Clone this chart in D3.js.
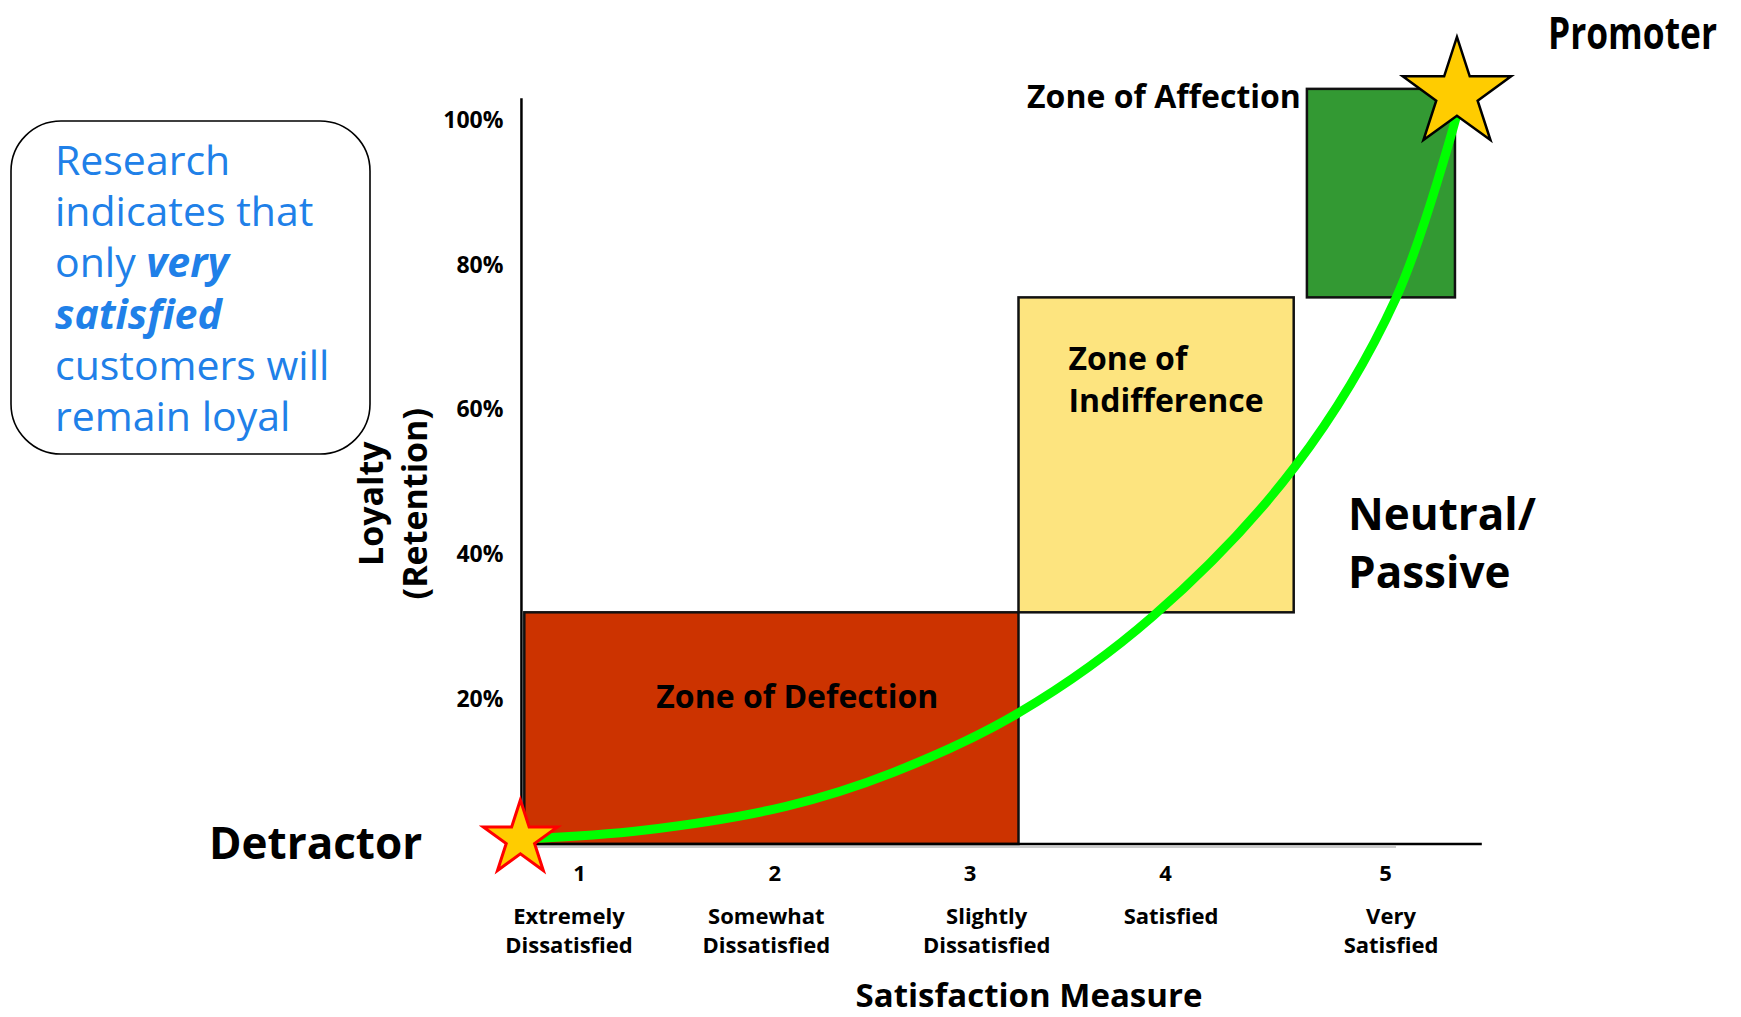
<!DOCTYPE html>
<html>
<head>
<meta charset="utf-8">
<script src="https://cdn.jsdelivr.net/npm/d3@7"></script>
<style>
  html, body { margin: 0; padding: 0; background: #fff; }
  svg { display: block; font-family: "Open Sans", "DejaVu Sans", sans-serif; }
</style>
</head>
<body>
<svg id="chart" width="1741" height="1017"></svg>
<script>
// ---- data -------------------------------------------------------------
const satisfactionTicks = [1, 2, 3, 4, 5];
const satisfactionLabels = [
  ["Extremely", "Dissatisfied"],
  ["Somewhat", "Dissatisfied"],
  ["Slightly", "Dissatisfied"],
  ["Satisfied"],
  ["Very", "Satisfied"]
];
const loyaltyTicks = [20, 40, 60, 80, 100];

// zones: satisfaction range (x) and loyalty range in % (y)
const zoneNames = ["Zone of Defection", "Zone of Indifference", "Zone of Affection"];
const zoneFrom = [0.72, 3.25, 4.645];
const zoneTo = [3.25, 4.585, 5.318];
const zoneLow = [0, 32, 75.5];
const zoneHigh = [32, 75.5, 104.3];
const zoneColors = ["#CC3300", "#FDE47F", "#339933"];

// loyalty curve: satisfaction score vs retention %
const curveSatisfaction = [0.72, 1.33, 2.06, 2.61, 3.25, 3.94, 4.59, 5.05, 5.33];
const curveLoyalty = [0.7, 1.9, 5.2, 9.9, 18.1, 31.5, 52.1, 75.4, 101.1];

// end markers
const markerNames = ["Detractor", "Promoter"];
const markerSatisfaction = [0.70, 5.327];
const markerLoyalty = [0.7, 103.6];

const noteLines = ["Research", "indicates that", "only |very", "|satisfied", "customers will", "remain loyal"];

// ---- scales -----------------------------------------------------------
const svg = d3.select("#chart");
const x = d3.scaleLinear().domain([1, 4, 5]).range([579, 1165, 1385]);
const y = d3.scaleLinear().domain([0, 100]).range([844, 120]);
const xExtent = [0.69, 5.44];
const yTop = 103;
// small horizontal nudges of the category captions under each tick (px)
const captionShift = [-10, -8, 17, 6, 6];

function starPath(cx, cy, R) {
  const r = R * 0.382, pts = [];
  for (let i = 0; i < 10; i++) {
    const rad = i % 2 === 0 ? R : r;
    const a = -Math.PI / 2 + i * Math.PI / 5;
    pts.push([cx + rad * Math.cos(a), cy + rad * Math.sin(a)]);
  }
  return "M" + pts.map(p => p.join(",")).join("L") + "Z";
}

// ---- note box ---------------------------------------------------------
svg.append("rect")
  .attr("x", 11).attr("y", 121).attr("width", 359).attr("height", 333)
  .attr("rx", 50).attr("ry", 50)
  .attr("fill", "#fff").attr("stroke", "#000").attr("stroke-width", 1.6);

const note = svg.append("g").attr("fill", "#2080E8").attr("font-size", 41);
noteLines.forEach((line, i) => {
  const t = note.append("text").attr("x", 55).attr("y", 175 + i * 51.2);
  const [plain, strong] = line.split("|");
  if (plain) t.append("tspan").text(plain);
  if (strong !== undefined) {
    t.append("tspan").attr("font-weight", 700).attr("font-style", "italic").text(strong);
  }
});

// ---- zones ------------------------------------------------------------
const zones = zoneNames.map((name, i) => ({
  name, x0: zoneFrom[i], x1: zoneTo[i], y0: zoneLow[i], y1: zoneHigh[i], color: zoneColors[i]
}));

svg.append("g").selectAll("rect").data(zones).join("rect")
  .attr("x", d => x(d.x0))
  .attr("y", d => y(d.y1))
  .attr("width", d => x(d.x1) - x(d.x0))
  .attr("height", d => y(d.y0) - y(d.y1))
  .attr("fill", d => d.color)
  .attr("stroke", "#111")
  .attr("stroke-width", 2.5);

const zl = svg.append("g").attr("font-weight", 700).attr("font-size", 32).attr("fill", "#000");
zl.append("text").attr("x", x(zones[0].x0) + 132).attr("y", y(zones[0].y1) + 96)
  .text(zones[0].name);
const ind = zl.append("text").attr("x", x(zones[1].x0) + 50).attr("y", y(zones[1].y1) + 73);
ind.append("tspan").text("Zone of");
ind.append("tspan").attr("x", x(zones[1].x0) + 50).attr("dy", 42).text("Indifference");
zl.append("text").attr("x", x(zones[2].x0) - 6).attr("y", y(zones[2].y1) + 19)
  .attr("text-anchor", "end").text(zones[2].name);

// ---- axes -------------------------------------------------------------
svg.append("line")
  .attr("x1", x(0.77)).attr("x2", x(5.05))
  .attr("y1", y(0) + 3).attr("y2", y(0) + 3)
  .attr("stroke", "#bbb").attr("stroke-width", 1.5);

svg.append("line")
  .attr("x1", x(xExtent[0])).attr("x2", x(xExtent[1]))
  .attr("y1", y(0)).attr("y2", y(0))
  .attr("stroke", "#000").attr("stroke-width", 2.5);
svg.append("line")
  .attr("x1", x(xExtent[0]) + 3).attr("x2", x(xExtent[0]) + 3)
  .attr("y1", y(0)).attr("y2", y(yTop))
  .attr("stroke", "#000").attr("stroke-width", 2.5);

const yAxis = svg.append("g")
  .attr("transform", `translate(${x(xExtent[0]) + 3},0)`)
  .call(d3.axisLeft(y).tickValues(loyaltyTicks).tickSize(0).tickPadding(18).tickFormat(d => d + "%"));
yAxis.select(".domain").remove();
yAxis.selectAll("text")
  .attr("font-family", "'Open Sans', sans-serif")
  .attr("font-size", 23).attr("font-weight", 700).attr("fill", "#000");

const xAxis = svg.append("g")
  .attr("transform", `translate(0,${y(0)})`)
  .call(d3.axisBottom(x).tickValues(satisfactionTicks).tickSize(0).tickPadding(21).tickFormat(d3.format("d")));
xAxis.select(".domain").remove();
xAxis.selectAll("text")
  .attr("font-family", "'Open Sans', sans-serif")
  .attr("font-size", 22).attr("font-weight", 700).attr("fill", "#000");

const cat = svg.append("g").attr("font-size", 22).attr("font-weight", 700)
  .attr("text-anchor", "middle").attr("fill", "#000");
satisfactionTicks.forEach((v, i) => {
  const t = cat.append("text").attr("y", y(0) + 80);
  satisfactionLabels[i].forEach((line, j) => {
    t.append("tspan").attr("x", x(v) + captionShift[i]).attr("dy", j === 0 ? 0 : 29).text(line);
  });
});

svg.append("text")
  .attr("x", (x(1) + x(5)) / 2 + 47).attr("y", y(0) + 163)
  .attr("text-anchor", "middle").attr("font-size", 33).attr("font-weight", 700)
  .text("Satisfaction Measure");

const yTitle = svg.append("text")
  .attr("transform", `translate(383,${y(47)}) rotate(-90)`)
  .attr("text-anchor", "middle").attr("font-size", 34).attr("font-weight", 700);
yTitle.append("tspan").attr("x", 0).attr("dy", 0).text("Loyalty");
yTitle.append("tspan").attr("x", 0).attr("dy", 44).text("(Retention)");

// ---- loyalty curve ----------------------------------------------------
const curvePts = curveSatisfaction.map((s, i) => [x(s), y(curveLoyalty[i])]);
svg.append("path")
  .attr("d", d3.line().curve(d3.curveCatmullRom.alpha(0.5))(curvePts))
  .attr("fill", "none").attr("stroke", "#00FF00").attr("stroke-width", 9);

// ---- end markers ------------------------------------------------------
const starStyle = [
  { R: 39, stroke: "#FF0000", width: 3 },
  { R: 57, stroke: "#000", width: 2.5 }
];
markerNames.forEach((name, i) => {
  svg.append("path")
    .attr("d", starPath(x(markerSatisfaction[i]), y(markerLoyalty[i]), starStyle[i].R))
    .attr("fill", "#FFCC00")
    .attr("stroke", starStyle[i].stroke)
    .attr("stroke-width", starStyle[i].width)
    .attr("stroke-linejoin", "miter");
});

svg.append("text").attr("x", 209).attr("y", 859)
  .attr("font-size", 44).attr("font-weight", 700).text(markerNames[0]);

// "Promoter" is set in a narrowed bold face: squeeze it horizontally
const promo = svg.append("g").attr("transform", "translate(1548,49)");
const promoText = promo.append("text").attr("x", 0).attr("y", 0)
  .attr("font-size", 44).attr("font-weight", 700).text(markerNames[1]);
const promoWidth = promoText.node().getComputedTextLength() || 206;
promo.attr("transform", `translate(1548,49) scale(${169 / promoWidth},1)`);

const np = svg.append("text").attr("x", 1348).attr("y", 530)
  .attr("font-size", 44).attr("font-weight", 700);
np.append("tspan").text("Neutral/");
np.append("tspan").attr("x", 1348).attr("dy", 58).text("Passive");
</script>
</body>
</html>
